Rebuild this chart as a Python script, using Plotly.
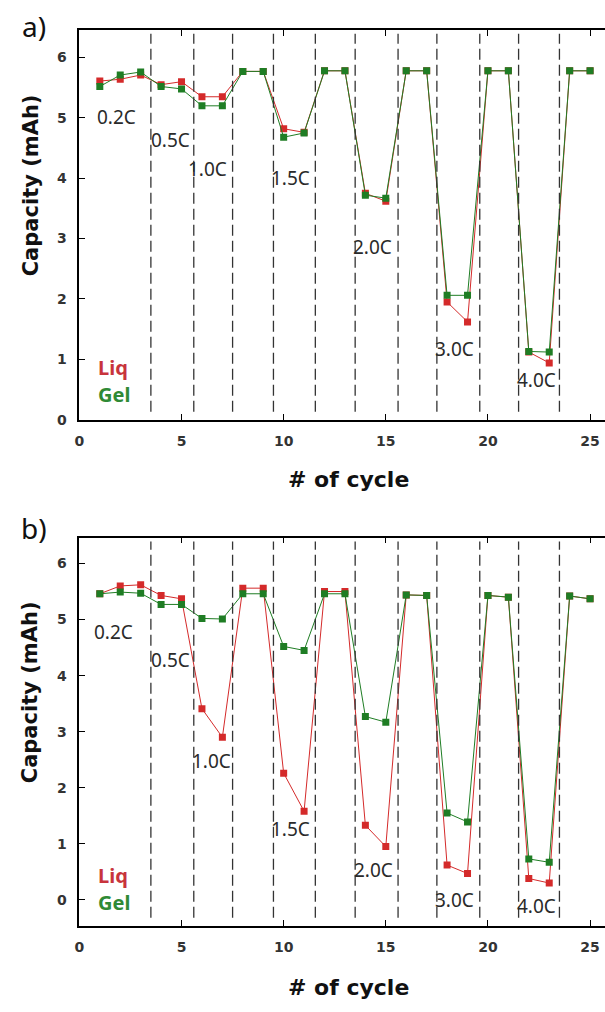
import plotly.graph_objects as go

# ---------------- data ----------------
cycles = list(range(1, 26))

liq_a = [5.61, 5.64, 5.71, 5.55, 5.60, 5.35, 5.35, 5.77, 5.77, 4.82, 4.76, 5.78, 5.78,
         3.75, 3.62, 5.78, 5.78, 1.95, 1.62, 5.78, 5.78, 1.12, 0.94, 5.78, 5.78]
gel_a = [5.52, 5.71, 5.76, 5.52, 5.48, 5.20, 5.20, 5.77, 5.77, 4.68, 4.75, 5.78, 5.78,
         3.72, 3.67, 5.78, 5.78, 2.06, 2.06, 5.78, 5.78, 1.13, 1.12, 5.78, 5.78]

liq_b = [5.46, 5.60, 5.62, 5.43, 5.37, 3.41, 2.90, 5.56, 5.56, 2.26, 1.58, 5.50, 5.50,
         1.33, 0.95, 5.44, 5.43, 0.62, 0.47, 5.43, 5.40, 0.38, 0.30, 5.42, 5.37]
gel_b = [5.46, 5.49, 5.47, 5.27, 5.27, 5.02, 5.01, 5.46, 5.46, 4.52, 4.45, 5.46, 5.46,
         3.27, 3.17, 5.44, 5.43, 1.55, 1.39, 5.43, 5.40, 0.73, 0.67, 5.42, 5.37]

boundaries = [3.5, 5.6, 7.5, 9.5, 11.55, 13.5, 15.6, 17.5, 19.6, 21.5, 23.5]
rate_labels = ["0.2C", "0.5C", "1.0C", "1.5C", "2.0C", "3.0C", "4.0C"]
label_pos_a = [(0.87, 5.02), (3.5, 4.64), (5.34, 4.16), (9.37, 4.0), (13.4, 2.86), (17.4, 1.17), (21.4, 0.66)]
label_pos_b = [(0.73, 4.78), (3.5, 4.28), (5.49, 2.48), (9.37, 1.27), (13.45, 0.53), (17.4, 0.0), (21.4, -0.11)]

x_ticks = [0, 5, 10, 15, 20, 25]

# ---------------- style ----------------
RED = "#d42a2a"
GREEN = "#1f7d24"
W, H = 605, 1012
FONT = "Noto Sans"
TFONT = "DejaVu Sans"

fig = go.Figure()

def add_panel(liq, gel, xa, ya):
    fig.add_trace(go.Scatter(x=cycles, y=liq, mode="lines+markers", xaxis=xa, yaxis=ya,
                             line=dict(color=RED, width=1),
                             marker=dict(symbol="square", size=7, color=RED),
                             showlegend=False))
    fig.add_trace(go.Scatter(x=cycles, y=gel, mode="lines+markers", xaxis=xa, yaxis=ya,
                             line=dict(color=GREEN, width=1),
                             marker=dict(symbol="square", size=7, color=GREEN),
                             showlegend=False))

add_panel(liq_a, gel_a, "x", "y")
add_panel(liq_b, gel_b, "x2", "y2")

shapes = []
for xr, yr in (("x", "y domain"), ("x2", "y2 domain")):
    for b in boundaries:
        shapes.append(dict(type="line", xref=xr, yref=yr, x0=b, x1=b, y0=0.02, y1=0.99,
                           line=dict(color="#333333", width=1.3, dash="11px,5px")))

annotations = []
for (lx, ly), t in zip(label_pos_a, rate_labels):
    annotations.append(dict(x=lx, y=ly, xref="x", yref="y", text=t, showarrow=False,
                            xanchor="left", yanchor="middle", xshift=-2,
                            font=dict(family=FONT, size=19, color="#2a2a2a")))
for (lx, ly), t in zip(label_pos_b, rate_labels):
    annotations.append(dict(x=lx, y=ly, xref="x2", yref="y2", text=t, showarrow=False,
                            xanchor="left", yanchor="middle", xshift=-2,
                            font=dict(family=FONT, size=19, color="#2a2a2a")))

def py(px):
    return 1 - px / H

def px_x(px):
    return px / W

# legend text, panel labels and titles
for yl, yg in ((370, 398), (882, 910)):
    annotations.append(dict(x=px_x(92), y=py(yl), xref="paper", yref="paper", text="<b>Liq</b>",
                            showarrow=False, xanchor="left", yanchor="middle",
                            font=dict(family=FONT, size=20, color="#c8343c")))
    annotations.append(dict(x=px_x(92), y=py(yg), xref="paper", yref="paper", text="<b>Gel</b>",
                            showarrow=False, xanchor="left", yanchor="middle",
                            font=dict(family=FONT, size=20, color="#2f8a35")))

for txt, yc in (("a)", 26), ("b)", 532)):
    annotations.append(dict(x=px_x(29), y=py(yc), xref="paper", yref="paper", text=txt,
                            showarrow=False, xanchor="center", yanchor="middle",
                            font=dict(family=FONT, size=28, color="#111111")))

for yc in (187, 698):
    annotations.append(dict(x=px_x(26), y=py(yc), xref="paper", yref="paper",
                            text="<b>Capacity (mAh)</b>", textangle=-90, showarrow=False,
                            xanchor="center", yanchor="middle",
                            font=dict(family=TFONT, size=21, color="#111111")))
for yc in (483, 995):
    annotations.append(dict(x=px_x(346), y=py(yc), xref="paper", yref="paper",
                            text="<b># of cycle</b>", showarrow=False,
                            xanchor="center", yanchor="middle",
                            font=dict(family=TFONT, size=22, color="#111111")))

tickfont = dict(family=TFONT, size=14, color="#333333", weight="bold")
xcommon = dict(range=[0, 25.73], tickvals=x_ticks, ticks="inside", ticklen=6, tickwidth=1.2,
               tickcolor="black", showline=True, linecolor="black", linewidth=1.5,
               mirror="ticks", showgrid=False, zeroline=False, ticklabelstandoff=8,
               tickfont=tickfont, domain=[75 / W, 1.0])
ycommon = dict(ticks="inside", ticklen=6, tickwidth=1.2, tickcolor="black", showline=True,
               linecolor="black", linewidth=1.5, mirror=False, showgrid=False, zeroline=False,
               ticklabelstandoff=8, tickfont=tickfont, dtick=1)

fig.update_layout(
    width=W, height=H, margin=dict(l=0, r=0, t=0, b=0),
    paper_bgcolor="white", plot_bgcolor="white",
    xaxis=dict(**xcommon, anchor="y"),
    yaxis=dict(**ycommon, range=[0, 6.46], domain=[py(423), py(30)], anchor="x"),
    xaxis2=dict(**xcommon, anchor="y2"),
    yaxis2=dict(**ycommon, range=[-0.46, 6.46], domain=[py(933), py(542)], anchor="x2"),
    shapes=shapes, annotations=annotations,
)

fig.write_html("out.html")
